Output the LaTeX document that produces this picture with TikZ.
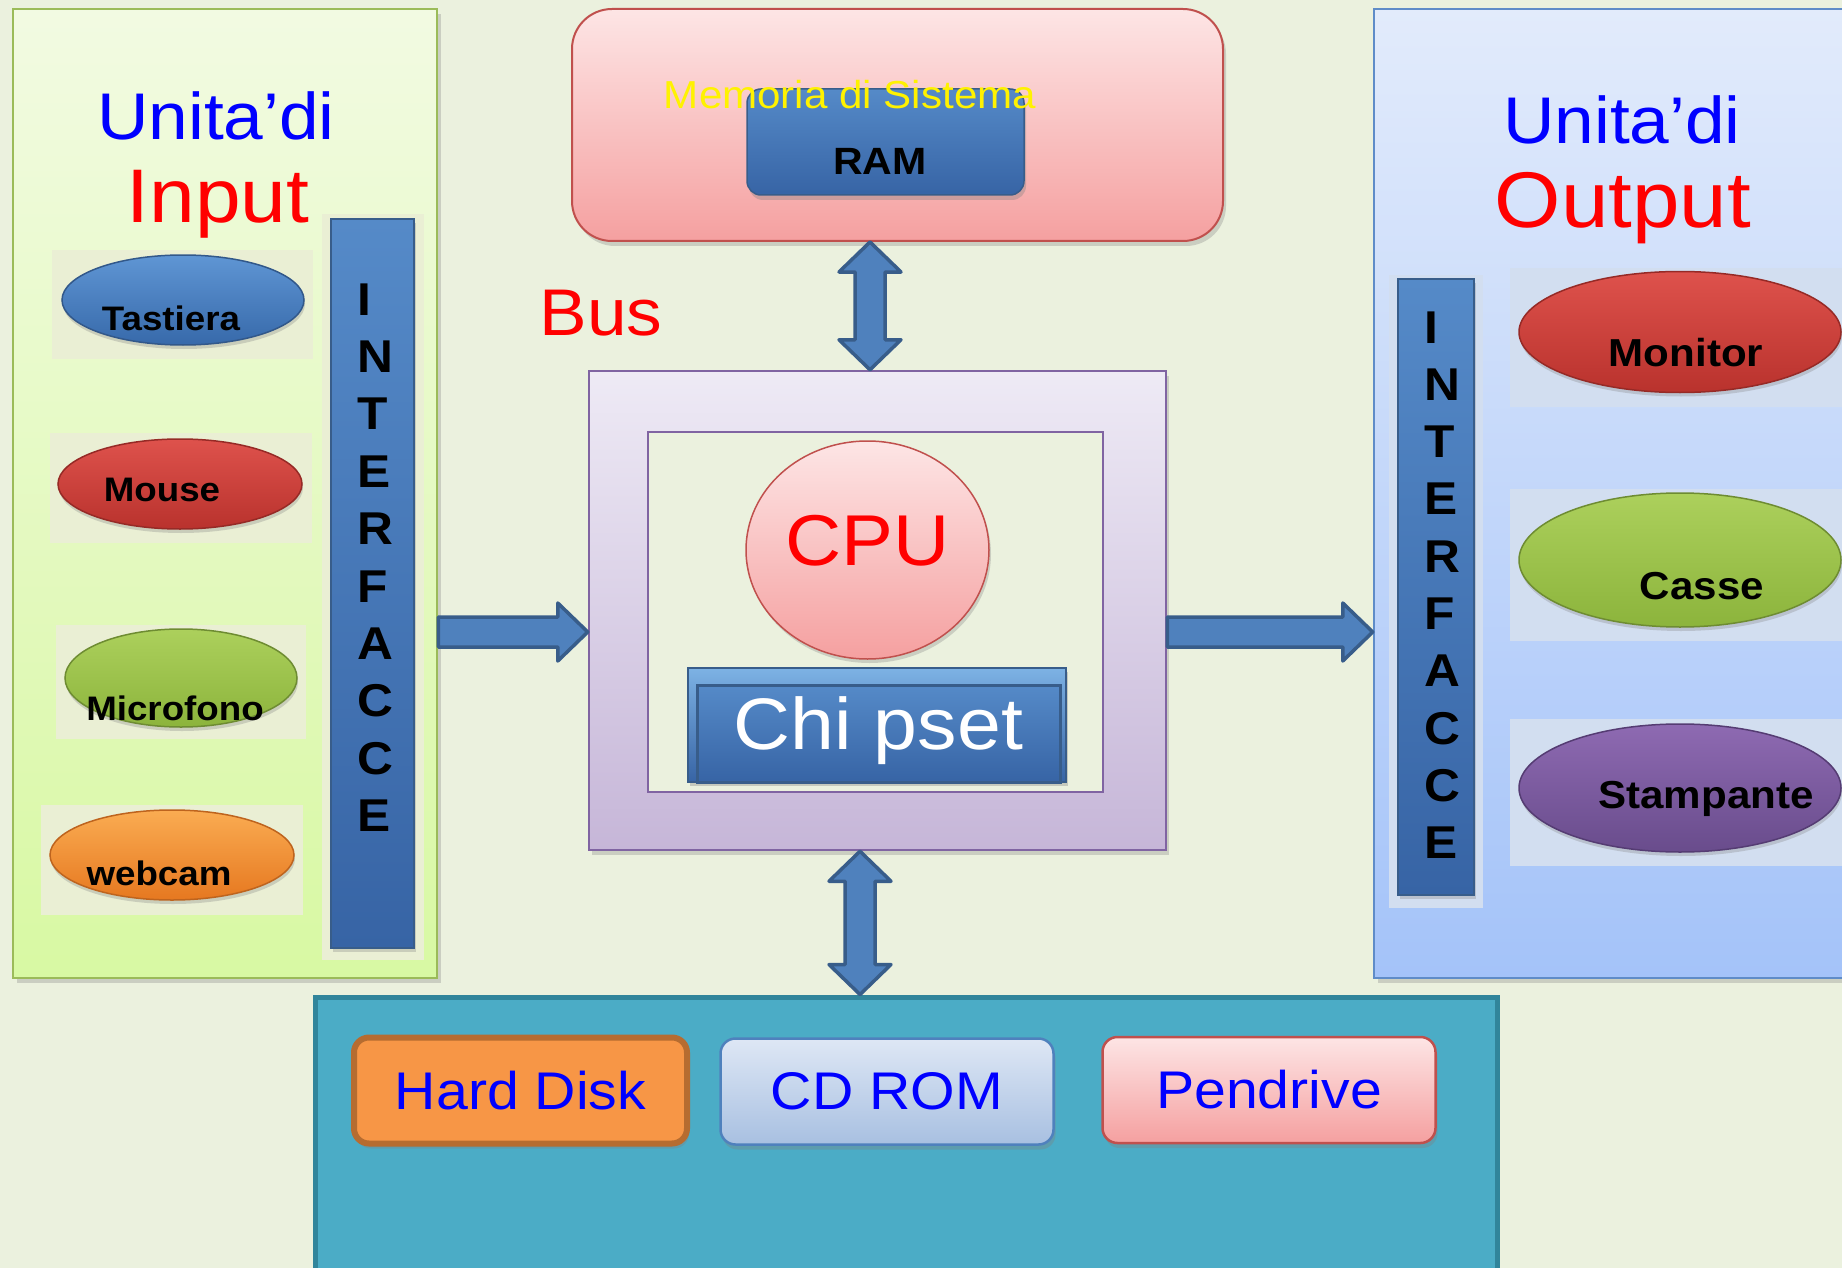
\documentclass[tikz,border=0pt]{standalone}
\usepackage{fontspec}
\setmainfont{Liberation Sans}[FakeStretch=1.08]
\usetikzlibrary{shapes.geometric,shadows,calc}

\definecolor{pagebg}{RGB}{235,241,222}
\definecolor{inlight}{RGB}{242,250,226}
\definecolor{indark}{RGB}{216,249,163}
\definecolor{inborder}{RGB}{155,187,89}
\definecolor{inimg}{RGB}{234,239,212}
\definecolor{outlight}{RGB}{226,235,251}
\definecolor{outdark}{RGB}{164,195,249}
\definecolor{outborder}{RGB}{95,140,200}
\definecolor{outimg}{RGB}{210,222,240}
\definecolor{memlight}{RGB}{253,229,229}
\definecolor{memdark}{RGB}{245,160,160}
\definecolor{memborder}{RGB}{192,80,77}
\definecolor{blulight}{RGB}{85,138,200}
\definecolor{bludark}{RGB}{55,100,165}
\definecolor{bluborder}{RGB}{56,93,138}
\definecolor{chiptop}{RGB}{125,178,228}
\definecolor{buslight}{RGB}{238,234,245}
\definecolor{busdark}{RGB}{198,182,216}
\definecolor{busborder}{RGB}{128,100,162}
\definecolor{arrowblue}{RGB}{79,129,189}
\definecolor{arrowline}{RGB}{56,93,138}
\definecolor{storeteal}{RGB}{75,172,198}
\definecolor{storeline}{RGB}{49,133,155}
\definecolor{hdfill}{RGB}{247,150,70}
\definecolor{hdline}{RGB}{182,108,48}
\definecolor{cdlight}{RGB}{222,231,245}
\definecolor{cddark}{RGB}{168,192,225}
\definecolor{cdline}{RGB}{79,129,189}
\definecolor{tastlight}{RGB}{95,150,212}
\definecolor{tastdark}{RGB}{55,105,170}
\definecolor{tastline}{RGB}{50,88,138}
\definecolor{redlight}{RGB}{222,82,76}
\definecolor{reddark}{RGB}{185,50,45}
\definecolor{redline}{RGB}{150,42,38}
\definecolor{grnlight}{RGB}{172,208,92}
\definecolor{grndark}{RGB}{140,180,60}
\definecolor{grnline}{RGB}{110,140,50}
\definecolor{orglight}{RGB}{250,172,82}
\definecolor{orgdark}{RGB}{230,120,32}
\definecolor{orgline}{RGB}{190,100,30}
\definecolor{purlight}{RGB}{142,106,178}
\definecolor{purdark}{RGB}{105,76,140}
\definecolor{purline}{RGB}{85,60,115}

\tikzset{
  flowarrow/.style={draw=arrowline, line width=3.5pt, fill=arrowblue, line join=round,
    to path={-- ($(\tikztostart)+(0,-15)$) -- ($(\tikztotarget)+(-30,-15)$)
      -- ($(\tikztotarget)+(-30,-29)$) -- (\tikztotarget)
      -- ($(\tikztotarget)+(-30,29)$) -- ($(\tikztotarget)+(-30,15)$)
      -- ($(\tikztostart)+(0,15)$) -- cycle}},
  busarrow/.style={draw=arrowline, line width=3.5pt, fill=arrowblue, line join=round,
    to path={-- ($(\tikztostart)+(31,30)$) -- ($(\tikztostart)+(15,30)$)
      -- ($(\tikztotarget)+(15,-30)$) -- ($(\tikztotarget)+(31,-30)$)
      -- (\tikztotarget) -- ($(\tikztotarget)+(-31,-30)$)
      -- ($(\tikztotarget)+(-15,-30)$) -- ($(\tikztostart)+(-15,30)$)
      -- ($(\tikztostart)+(-31,30)$) -- cycle}},
}

\begin{document}
\begin{tikzpicture}[x=1pt, y=-1pt,
  panel/.style={draw, line width=2.5pt, inner sep=0pt, drop shadow={shadow xshift=4pt, shadow yshift=-5pt, opacity=0.3}},
  imgbg/.style={inner sep=0pt},
  device/.style={ellipse, draw, line width=1.5pt, inner sep=0pt, drop shadow={shadow xshift=1pt, shadow yshift=-4pt, opacity=0.3}},
  indev/.style={anchor=base, font=\bfseries\fontsize{34}{41}\selectfont},
  outdev/.style={anchor=base, font=\bfseries\fontsize{39}{47}\selectfont},
  ifbar/.style={draw=bluborder, line width=1.5pt, top color=blulight, bottom color=bludark, inner sep=0pt, drop shadow={shadow xshift=2pt, shadow yshift=-4pt, opacity=0.3}},
  barletter/.style={anchor=base west, font=\bfseries\fontsize{46}{55}\selectfont},
  unita/.style={anchor=base, text=blue, font=\fontsize{66}{79}\selectfont},
  media/.style={rounded corners=15pt, minimum width=333pt, minimum height=106pt, inner sep=0pt, text=blue, font=\fontsize{53}{64}\selectfont, drop shadow={shadow xshift=2pt, shadow yshift=-5pt, opacity=0.35}}
]

% Page background
\path[use as bounding box, fill=pagebg] (0,0) rectangle (1842,1268);

% Coordinates of the connectors
\coordinate (flowrow) at (0,632);
\coordinate (upcol) at (870,0);
\coordinate (downcol) at (860,0);

%%%%%%%%%% Unita' di Input %%%%%%%%%%
\node[panel, draw=inborder, top color=inlight, bottom color=indark, minimum width=424pt, minimum height=969pt] (inpanel) at (225,493.5) {};
\node[unita] (inunita) at (216,140) {Unita’di};
\node[anchor=base, text=red, font=\fontsize{76}{91}\selectfont] (ininput) at (218,223) {Input};

\node[imgbg, fill=inimg, minimum width=261pt, minimum height=109pt] (tastbg) at (182.5,304.5) {};
\node[imgbg, fill=inimg, minimum width=262pt, minimum height=110pt] (mousebg) at (181,488) {};
\node[imgbg, fill=inimg, minimum width=250pt, minimum height=114pt] (micbg) at (181,682) {};
\node[imgbg, fill=inimg, minimum width=262pt, minimum height=110pt] (cambg) at (172,860) {};
\node[imgbg, fill=inimg, minimum width=102pt, minimum height=746pt] (inbarbg) at (373,587) {};

\node[device, draw=tastline, top color=tastlight, bottom color=tastdark, minimum width=242pt, minimum height=90pt] (tast) at (183,300) {};
\node[indev] (tastl) at (171,330) {Tastiera};
\node[device, draw=redline, top color=redlight, bottom color=reddark, minimum width=244pt, minimum height=90pt] (mouse) at (180,484) {};
\node[indev] (mousel) at (162,501) {Mouse};
\node[device, draw=grnline, top color=grnlight, bottom color=grndark, minimum width=232pt, minimum height=98pt] (mic) at (181,678) {};
\node[indev] (micl) at (175,720) {Microfono};
\node[device, draw=orgline, top color=orglight, bottom color=orgdark, minimum width=244pt, minimum height=90pt] (cam) at (172,855) {};
\node[indev] (caml) at (159,885) {webcam};

\node[ifbar, minimum width=83pt, minimum height=729pt] (inbar) at (372.5,583.5) {};
\foreach \l [count=\i] in {I,N,T,E,R,F,A,C,C,E}
{
    \node[barletter] (inl\i) at (354,{315+57.4*(\i-1)}) {\l};
}

%%%%%%%%%% Unita' di Output %%%%%%%%%%
\node[panel, draw=outborder, top color=outlight, bottom color=outdark, minimum width=526pt, minimum height=969pt] (outpanel) at (1637,493.5) {};
\node[unita] (outunita) at (1622,144) {Unita’di};
\node[anchor=base, text=red, font=\fontsize{79}{95}\selectfont] (outoutput) at (1623,228) {Output};

\node[imgbg, fill=outimg, minimum width=350pt, minimum height=139pt] (monbg) at (1685,337.5) {};
\node[imgbg, fill=outimg, minimum width=350pt, minimum height=152pt] (cassebg) at (1685,565) {};
\node[imgbg, fill=outimg, minimum width=350pt, minimum height=147pt] (stampbg) at (1685,792.5) {};
\node[imgbg, fill=outimg, minimum width=94pt, minimum height=633pt] (outbarbg) at (1436,591.5) {};

\node[device, draw=redline, top color=redlight, bottom color=reddark, minimum width=322pt, minimum height=121pt] (mon) at (1680,332) {};
\node[outdev] (monl) at (1686,366) {Monitor};
\node[device, draw=grnline, top color=grnlight, bottom color=grndark, minimum width=322pt, minimum height=134pt] (casse) at (1680,560) {};
\node[outdev] (cassel) at (1702,599) {Casse};
\node[device, draw=purline, top color=purlight, bottom color=purdark, minimum width=322pt, minimum height=128pt] (stamp) at (1680,788) {};
\node[outdev] (stampl) at (1706,808) {Stampante};

\node[ifbar, minimum width=76pt, minimum height=616pt] (outbar) at (1436,587) {};
\foreach \l [count=\i] in {I,N,T,E,R,F,A,C,C,E}
{
    \node[barletter] (outl\i) at (1421,{343+57.3*(\i-1)}) {\l};
}

%%%%%%%%%% Memoria di Sistema %%%%%%%%%%
\node[draw=memborder, line width=2pt, top color=memlight, bottom color=memdark, rounded corners=40pt, minimum width=651pt, minimum height=232pt, inner sep=0pt, drop shadow={shadow xshift=3pt, shadow yshift=-5pt, opacity=0.3}] (mem) at (897.5,125) {};
\node[draw=bluborder, line width=1.5pt, top color=blulight, bottom color=bludark, rounded corners=14pt, minimum width=277pt, minimum height=106pt, inner sep=0pt, drop shadow={shadow xshift=2pt, shadow yshift=-5pt, opacity=0.35}] (ram) at (885.5,142) {};
\node[anchor=base, font=\bfseries\fontsize{38}{46}\selectfont] (raml) at (880,175) {RAM};
\node[anchor=base, text=yellow, font=\fontsize{39}{47}\selectfont] (meml) at (850,109) {Memoria di Sistema};

% Bus
\node[anchor=base, text=red, font=\fontsize{66}{79}\selectfont] (busl) at (601,335) {Bus};

%%%%%%%%%% CPU and Chipset %%%%%%%%%%
\node[draw=busborder, line width=2.5pt, top color=buslight, bottom color=busdark, minimum width=577pt, minimum height=479pt, inner sep=0pt, drop shadow={shadow xshift=3pt, shadow yshift=-5pt, opacity=0.3}] (busbox) at (877.5,610.5) {};
\node[draw=busborder, line width=2pt, fill=pagebg, minimum width=455pt, minimum height=360pt, inner sep=0pt] (cpuframe) at (875.5,612) {};
\node[ellipse, draw=memborder, line width=1.5pt, top color=memlight, bottom color=memdark, minimum width=243pt, minimum height=218pt, inner sep=0pt, text=red, font=\fontsize{72}{86}\selectfont, text depth=20pt, drop shadow={shadow xshift=2pt, shadow yshift=-4pt, opacity=0.3}] (cpu) at (867.5,550) {CPU};
\node[draw=bluborder, line width=1.5pt, top color=chiptop, bottom color=bludark, minimum width=378pt, minimum height=114pt, inner sep=0pt, drop shadow={shadow xshift=2pt, shadow yshift=-4pt, opacity=0.35}] (chip) at (877,725) {};
\node[draw=bluborder, line width=3pt, top color=blulight, bottom color=bludark, minimum width=363pt, minimum height=97pt, inner sep=0pt, text=white, font=\fontsize{73}{88}\selectfont, text depth=20pt] (chipin) at (878.5,733.5) {Chi pset};

%%%%%%%%%% Memorie di massa %%%%%%%%%%
\node[draw=storeline, line width=5pt, fill=storeteal, minimum width=1182pt, minimum height=303pt, inner sep=0pt] (store) at (906,1148.5) {};
\node[media, draw=hdline, line width=6pt, fill=hdfill] (hd) at (520.5,1090.5) {Hard Disk};
\node[media, draw=cdline, line width=2.5pt, top color=cdlight, bottom color=cddark] (cd) at (887,1091.5) {CD ROM};
\node[media, draw=memborder, line width=2.5pt, top color=memlight, bottom color=memdark] (pen) at (1269,1090) {Pendrive};

%%%%%%%%%% Connectors %%%%%%%%%%
\draw[flowarrow] (inpanel.east |- flowrow) to (busbox.west |- flowrow);
\draw[flowarrow] (busbox.east |- flowrow) to (outpanel.west |- flowrow);
\draw[busarrow] (mem.south -| upcol) to (busbox.north -| upcol);
\draw[busarrow] (busbox.south -| downcol) to (store.north -| downcol);

\end{tikzpicture}
\end{document}
